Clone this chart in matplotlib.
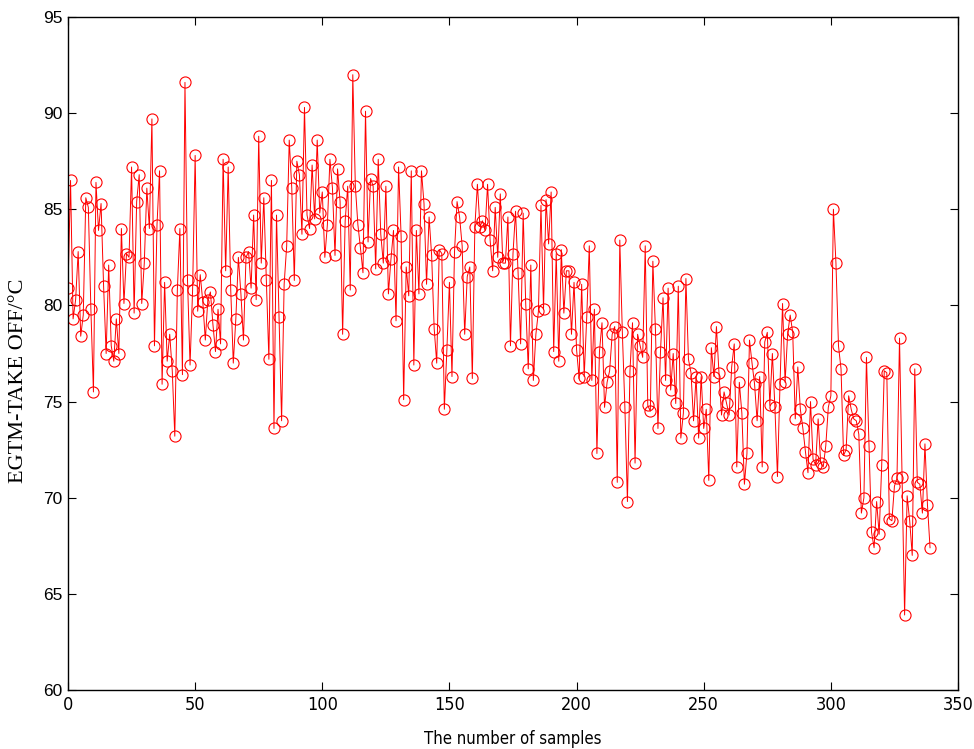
import matplotlib
matplotlib.use("Agg")
import matplotlib.pyplot as plt
import numpy as np

# EGTM take-off margin, one value per sample
egtm = [
    80.9, 86.5, 79.3, 80.3, 82.8, 78.4, 79.5, 85.6, 85.1, 79.8,
    75.5, 86.4, 83.9, 85.3, 81.0, 77.5, 82.1, 77.9, 77.1, 79.3,
    77.5, 84.0, 80.1, 82.7, 82.5, 87.2, 79.6, 85.4, 86.8, 80.1,
    82.2, 86.1, 84.0, 89.7, 77.9,
    84.2, 87.0, 75.9, 81.2, 77.1, 78.5, 76.6, 73.2, 80.8, 84.0,
    76.4, 91.6, 81.3, 76.9, 80.8, 87.8, 79.7, 81.6, 80.2, 78.2,
    80.3, 80.7, 79.0, 77.6, 79.8, 78.0, 87.6, 81.8, 87.2, 80.8,
    77.0, 79.3, 82.5, 80.6, 78.2, 82.5,
    82.8, 80.9, 84.7, 80.3, 88.8, 82.2, 85.6, 81.3, 77.2, 86.5,
    73.6, 84.7, 79.4, 74.0, 81.1, 83.1, 88.6, 86.1, 81.3, 87.5,
    86.8, 83.7, 90.3, 84.7, 84.0, 87.3, 84.5, 88.6, 84.8, 85.9,
    82.5, 84.2, 87.6, 86.1, 82.6, 87.1,
    85.4, 78.5, 84.4, 86.2, 80.8, 92.0, 86.2, 84.2, 83.0, 81.7,
    90.1, 83.3, 86.6, 86.2, 81.9, 87.6, 83.7, 82.2, 86.2, 80.6,
    82.4, 83.9, 79.2, 87.2, 83.6, 75.1, 82.0, 80.5, 87.0, 76.9,
    83.9, 80.6, 87.0,
    85.3, 81.1, 84.6, 82.6, 78.8, 77.0, 82.9, 82.7, 74.6, 77.7,
    81.2, 76.3, 82.8, 85.4, 84.6, 83.1, 78.5, 81.5, 82.0, 76.2,
    84.1, 86.3, 84.1, 84.4, 83.9, 86.3, 83.4, 81.8, 85.1, 82.5,
    85.8, 82.2, 82.2, 84.6, 77.9, 82.7,
    84.9, 81.7, 78.0, 84.8, 80.1, 76.7, 82.1, 76.1, 78.5, 79.7,
    85.2, 79.8, 85.5, 83.2, 85.9, 77.6, 82.7, 77.1, 82.9, 79.6,
    81.8, 81.8, 78.5, 81.2, 77.7, 76.2, 81.1, 76.3, 79.4, 83.1,
    76.1, 79.8, 72.3, 77.6, 79.1, 74.7, 76.0,
    76.6, 78.5, 78.9, 70.8, 83.4, 78.6, 74.7, 69.8, 76.6, 79.1,
    71.8, 78.5, 77.9, 77.3, 83.1, 74.8, 74.5, 82.3, 78.8, 73.6,
    77.6, 80.4, 76.1, 80.9, 75.6, 77.5, 74.9, 81.0, 73.1, 74.4,
    81.4, 77.2, 76.5, 74.0,
    76.3, 73.1, 76.3, 73.6, 74.6, 70.9, 77.8, 76.3, 78.9, 76.5,
    74.3, 75.5, 74.9, 74.3, 76.8, 78.0, 71.6, 76.0, 74.4, 70.7,
    72.3, 78.2, 77.0, 75.9, 74.0, 76.3, 71.6, 78.1, 78.6, 74.8,
    77.5, 74.7, 71.1, 75.9, 80.1, 76.0,
    78.5, 79.5, 78.6, 74.1, 76.8, 74.6, 73.6, 72.4, 71.3, 75.0,
    72.0, 71.7, 74.1, 71.8, 71.6, 72.7, 74.7, 75.3, 85.0, 82.2,
    77.9, 76.7, 72.2, 72.5, 75.3, 74.6, 74.1, 74.0, 73.3, 69.2,
    70.0, 77.3, 72.7, 68.2, 67.4,
    69.8, 68.1, 71.7, 76.6, 76.5, 68.9, 68.8, 70.6, 71.0, 78.3,
    71.1, 63.9, 70.1, 68.8, 67.0, 76.7, 70.8, 70.7, 69.2, 72.8,
    69.6, 67.4,
]
samples = np.arange(len(egtm))

fig = plt.figure(figsize=(9.74, 7.49), dpi=100)
ax = fig.add_axes([68 / 974, 1 - 690 / 749, 890 / 974, 673 / 749])

ax.plot(samples, egtm, color="red", linewidth=0.7, marker="o",
        markersize=8, markerfacecolor="none", markeredgecolor="red",
        markeredgewidth=0.8)

ax.set_xlim(0, 350)
ax.set_ylim(60, 95)
ax.set_xticks(np.arange(0, 351, 50))
ax.set_yticks(np.arange(60, 96, 5))
ax.tick_params(direction="in", top=True, right=True, length=6, width=0.8,
               pad=4)
for lbl in ax.get_xticklabels():
    lbl.set_family("DejaVu Sans")
    lbl.set_stretch("condensed")
    lbl.set_fontsize(13)
for lbl in ax.get_yticklabels():
    lbl.set_family("Liberation Sans")
    lbl.set_fontsize(12.5)
for s in ax.spines.values():
    s.set_linewidth(1.0)

ax.set_xlabel("The number of samples", family="DejaVu Sans",
              stretch="condensed", fontsize=12, labelpad=12)
ax.set_ylabel("EGTM-TAKE OFF/°C", family="Liberation Serif",
              fontsize=16)
ax.yaxis.set_label_coords(-0.045, 0.46)

fig.savefig("out.png", dpi=100)
